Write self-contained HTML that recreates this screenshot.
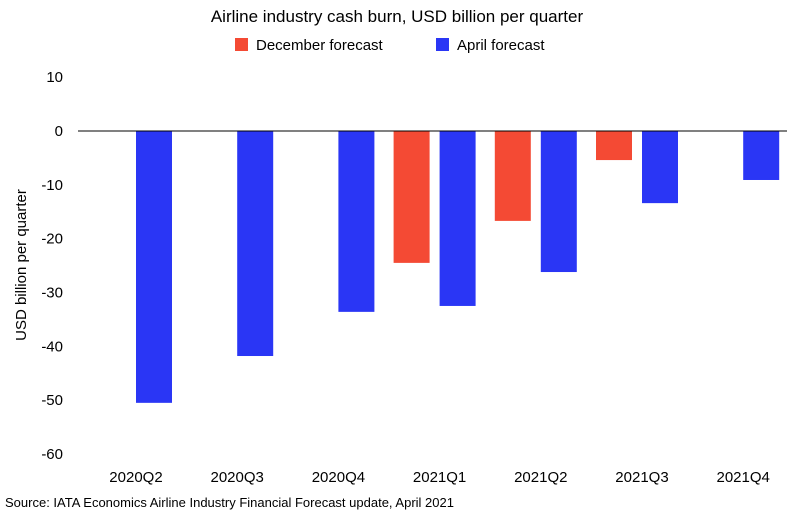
<!DOCTYPE html>
<html><head><meta charset="utf-8"><style>
body{margin:0;background:#fff;}
svg{display:block;font-family:"Liberation Sans",sans-serif;}
</style></head><body>
<svg width="787" height="515" id="chart">
<text x="397" y="22" text-anchor="middle" font-size="17" fill="#000">Airline industry cash burn, USD billion per quarter</text>
<rect x="235" y="38" width="13" height="13" fill="#f44a34"/>
<text x="256" y="50" font-size="15">December forecast</text>
<rect x="436" y="38" width="13" height="13" fill="#2a36f5"/>
<text x="457" y="50" font-size="15">April forecast</text>
<text transform="translate(26,265) rotate(-90)" text-anchor="middle" font-size="15">USD billion per quarter</text>
<text x="5" y="507" font-size="13">Source: IATA Economics Airline Industry Financial Forecast update, April 2021</text>
<g id="plot"></g>
</svg>
<script>
const categories=["2020Q2","2020Q3","2020Q4","2021Q1","2021Q2","2021Q3","2021Q4"];
const decValues=[null,null,null,-24.5,-16.7,-5.4,null];
const aprValues=[-50.5,-41.8,-33.6,-32.5,-26.2,-13.4,-9.1];
const yTicks=[10,0,-10,-20,-30,-40,-50,-60];
const NS="http://www.w3.org/2000/svg";
const g=document.getElementById('plot');
const y=v=>131-v*5.383;
const band=101.2, x0=81;
const xc=i=>x0+i*band;
function mk(t,a){const e=document.createElementNS(NS,t);for(const k in a)e.setAttribute(k,a[k]);g.appendChild(e);return e;}
yTicks.forEach(t=>{
  const e=mk('text',{x:63,y:y(t)+5,'text-anchor':'end','font-size':15});
  e.textContent=t;
  
  
});
categories.forEach((c,i)=>{
  const e=mk('text',{x:xc(i)+55,y:482,'text-anchor':'middle','font-size':15});
  e.textContent=c;
  
  
  if(decValues[i]!==null){
    const r=mk('rect',{x:xc(i)+9,y:y(0),width:36,height:y(decValues[i])-y(0),fill:'#f44a34'});
    
    
  }
  if(aprValues[i]!==null){
    const r=mk('rect',{x:xc(i)+55,y:y(0),width:36,height:y(aprValues[i])-y(0),fill:'#2a36f5'});
    
    
  }
});
const z=mk('line',{x1:78,x2:787,y1:y(0),y2:y(0),stroke:'#000','stroke-width':1});


</script>
</body></html>
